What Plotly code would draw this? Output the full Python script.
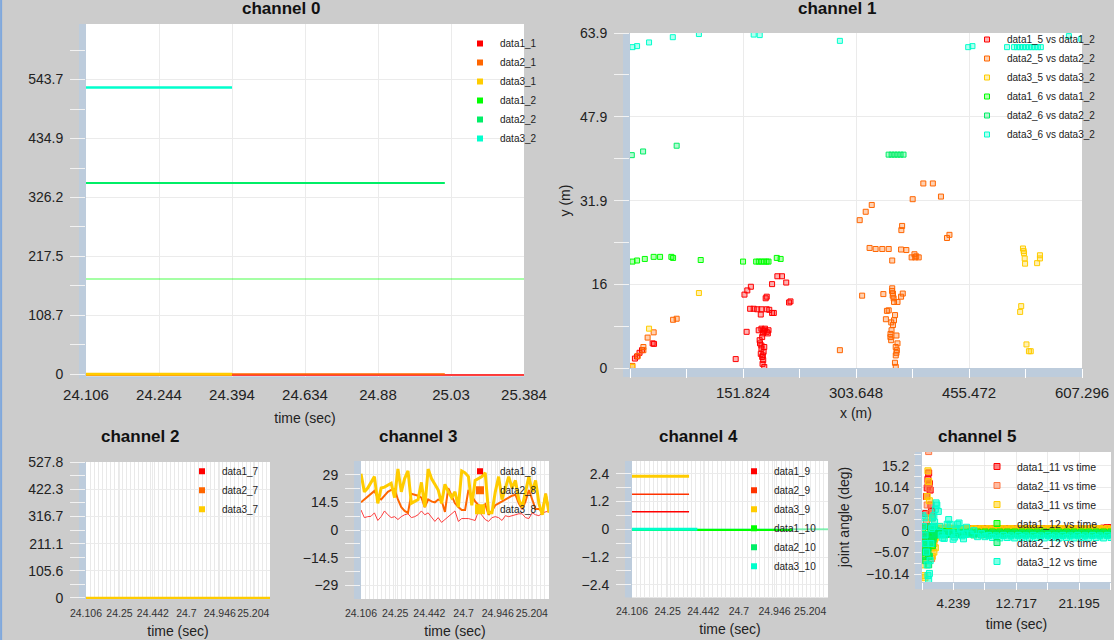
import numpy as np
import plotly.graph_objects as go

W, H = 1114, 640
FONT = "Liberation Sans, Arial, sans-serif"
BG = "#CCCCCC"
STRIP = "#BDCCDC"
GRID = "#EBEBEB"
TICKC = "#F2F2F2"

RED = "#FF0000"
ORANGE = "#FF6600"
YELLOW = "#FFCC00"
GREEN = "#00FF00"
MINT = "#00EE66"
CYAN = "#00FFCC"

# ---- time axis (seconds) shared by channels 0, 2, 3, 4
T0, T1 = 24.106, 25.384
labels_ch0 = ["24.106", "24.244", "24.394", "24.634", "24.88", "25.03", "25.384"]
labels_small = ["24.106", "24.25", "24.442", "24.7", "24.946", "25.204"]

# ---- channel 0
t_ch0 = [24.106, 24.532, 25.153, 25.384]
data1_1 = [-1.2, -1.2, -1.2, -1.2]
data2_1 = [0.6, 0.6, 0.6, None]
data3_1 = [0.0, 0.0, None, None]
data1_2 = [175.6, 175.6, 175.6, 175.6]
data2_2 = [352.6, 352.6, 352.6, None]
data3_2 = [529.0, 529.0, None, None]
yticks_ch0 = [0, 108.7, 217.5, 326.2, 434.9, 543.7]

# ---- channel 1 (x (m) vs y (m))
data1_5_x = [6.6, 9.5, 12.8, 16.1, 30.4, 32.3, 142.0, 153.8, 157.6, 162.4, 156.7, 161.4, 166.2, 170.9, 176.6,
             183.7, 187.1, 190.9, 193.2, 175.7, 182.3, 183.7, 190.9, 198.0, 204.2, 209.9, 213.7, 215.6, 172.9, 176.6,
             180.4, 183.7, 186.1, 178.5, 174.2, 174.7, 176.6, 175.7, 177.6, 179.0, 178.1, 180.4, 176.6, 179.5, 179.0,
             185.2, 181.4, 177.6, 180.4, 178.5]
data1_5_y = [1.8, 2.2, 2.9, 3.4, 4.7, 4.6, 1.7, 14.0, 14.8, 15.5, 6.9, 11.3, 11.3, 11.2, 11.2,
             11.2, 11.1, 10.5, 10.5, 10.2, 13.3, 13.6, 16.0, 17.5, 17.5, 16.3, 12.5, 12.7, 7.2, 7.5,
             7.1, 6.9, 7.2, 6.6, 5.3, 4.7, 3.7, 2.7, 2.1, 1.5, 0.8, 0.2, 4.3, 3.1, 7.2,
             6.6, 7.5, 5.9, 4.0, 2.4]
data2_5_x = [3.3, 10.4, 18.0, 18.0, 23.7, 31.8, 57.9, 62.7, 282.0, 308.6, 316.7, 324.8, 311.9, 321.9, 330.0,
             339.0, 347.6, 352.3, 364.2, 371.3, 365.6, 364.6, 379.8, 394.1, 406.9, 417.8, 425.9, 429.2, 378.4, 383.2,
             387.9, 384.6, 382.2, 340.4, 345.2, 347.6, 343.8, 357.1, 352.3, 353.3, 354.2, 354.7, 359.4, 364.2, 366.5,
             356.1, 354.7, 353.3, 351.4, 349.9, 350.9, 358.0, 359.4, 358.5, 357.1, 352.0, 353.0, 351.0, 350.0, 357.0,
             358.0, 356.0]
data2_5_y = [0.4, 2.3, 3.4, 4.0, 5.8, 6.8, 9.2, 9.4, 3.4, 28.2, 29.8, 31.1, 13.8, 22.9, 22.7,
             22.7, 22.7, 20.5, 22.6, 22.5, 27.1, 26.3, 32.2, 35.2, 35.2, 32.7, 24.8, 25.4, 21.1, 21.1,
             21.1, 21.3, 21.7, 14.1, 10.9, 11.0, 9.3, 0.2, 15.2, 14.2, 13.3, 12.6, 12.6, 13.6, 14.2,
             10.1, 9.1, 8.2, 7.2, 5.9, 5.3, 6.2, 4.7, 3.4, 2.4, 14.7, 13.8, 8.7, 6.5, 4.0,
             2.9, 1.0]
data3_5_x = [2.8, 25.6, 92.6, 524.2, 525.6, 528.0, 529.4, 530.3, 530.8, 528.9, 547.0, 550.8, 550.8, 532.7, 536.0, 538.4]
data3_5_y = [0.2, 7.5, 14.3, 10.7, 11.8, 22.8, 21.9, 20.9, 19.9, 22.3, 20.0, 20.9, 21.5, 4.5, 3.2, 3.2]
data1_6_x = [3.3, 9.5, 19.9, 31.8, 40.4, 55.6, 57.9, 95.0, 151.9, 169.5, 173.0, 176.6, 180.0, 183.5, 186.1, 197.2, 202.4]
data1_6_y = [20.3, 20.5, 20.8, 21.2, 21.2, 21.2, 21.0, 20.6, 20.3, 20.3, 20.3, 20.3, 20.3, 20.3, 20.3, 21.0, 20.8]
data2_6_x = [2.4, 17.6, 62.7, 347.5, 351.5, 355.5, 359.5, 363.5, 367.5]
data2_6_y = [40.6, 41.3, 42.4, 40.7, 40.7, 40.7, 40.7, 40.7, 40.7]
data3_6_x = [3.3, 9.5, 25.6, 57.5, 92.6, 166.2, 174.3, 282.0, 454.4, 460.1, 506.6, 516.0, 520.0, 524.0, 528.0,
             532.0, 536.0, 540.0, 544.0, 548.0, 552.0, 589.7, 606.3]
data3_6_y = [61.2, 61.4, 62.1, 63.1, 63.7, 63.6, 63.5, 62.4, 61.2, 61.4, 61.2, 61.2, 61.2, 61.2, 61.2,
             61.2, 61.2, 61.2, 61.2, 61.2, 61.2, 63.3, 62.8]
xticks_ch1 = [151.824, 303.648, 455.472, 607.296]
yticks_ch1 = [0, 16, 31.9, 47.9, 63.9]

# ---- channel 2
t_ch2 = [24.106, 25.384]
data1_7 = [0.0, 0.0]
data2_7 = [0.0, 0.0]
data3_7 = [0.0, 0.0]
yticks_ch2 = [0, 105.6, 211.1, 316.7, 422.3, 527.8]

# ---- channel 3
t_ch3 = np.linspace(T0, T1, 57)
data1_8 = [10.5, 6.5, 7.0, 7.2, 9.0, 5.0, 7.0, 10.0, 8.0, 6.5, 7.0, 5.5, 7.0, 8.0, 8.5, 6.5, 7.0, 8.0, 10.0,
           8.0, 9.0, 7.0, 4.5, 6.5, 4.0, 5.5, 7.0, 9.0, 10.0, 4.5, 6.0, 6.0, 6.0, 5.5, 5.0, 10.0, 8.0, 5.5,
           4.5, 6.5, 7.0, 6.5, 5.0, 7.5, 7.0, 7.5, 8.0, 8.5, 8.5, 6.5, 6.0, 9.0, 8.0, 7.5, 9.0, 9.5, 10.0]
data2_8 = [14.5, 16.0, 18.0, 19.5, 20.5, 17.0, 16.0, 18.0, 20.0, 21.0, 21.5, 16.0, 12.0, 10.0, 9.0, 19.0, 18.5,
           18.0, 17.0, 12.0, 16.0, 15.0, 14.5, 16.0, 15.5, 9.5, 22.0, 18.0, 14.0, 12.0, 10.5, 10.5, 21.0, 18.0,
           15.0, 13.0, 12.0, 13.5, 8.0, 10.0, 13.0, 14.0, 15.0, 16.0, 17.0, 18.0, 18.5, 14.0, 11.0, 15.0, 21.0,
           16.0, 11.0, 11.0, 10.0, 19.0, 10.0]
data3_8 = [29.5, 20.0, 22.0, 25.0, 28.0, 14.0, 22.0, 22.5, 23.5, 24.5, 17.0, 32.0, 20.0, 27.0, 31.0, 14.0, 15.0,
           16.0, 25.0, 12.0, 32.0, 27.0, 24.0, 21.0, 14.0, 24.0, 20.0, 17.0, 20.0, 12.0, 31.0, 30.0, 28.0, 13.0,
           26.0, 27.0, 28.0, 30.0, 9.0, 9.0, 20.0, 28.0, 16.0, 22.0, 28.0, 22.0, 26.0, 16.0, 12.0, 20.0, 28.0,
           20.0, 26.0, 14.0, 8.0, 19.0, 9.0]
yticks_ch3 = [-29, -14.5, 0, 14.5, 29]

# ---- channel 4
t_ch4 = [24.106, 24.478, 24.532, 25.153, 25.384]
data1_9 = [0.76, 0.76, None, None, None]
data2_9 = [1.51, 1.51, None, None, None]
data3_9 = [2.29, 2.29, None, None, None]
data1_10 = [-0.03, -0.03, -0.03, -0.03, None]
data2_10 = [0.0, 0.0, 0.0, 0.0, 0.0]
data3_10 = [0.0, 0.0, 0.0, None, None]
yticks_ch4 = [-2.4, -1.2, 0, 1.2, 2.4]

# ---- channel 5 (joint angle vs time): 20 + 20 + 39 samples
t_ch5 = np.round(np.concatenate([np.arange(0.1, 2.01, 0.1), np.arange(2.2, 6.01, 0.2),
                                 np.arange(6.5, 25.51, 0.5)]), 2)
data1_11 = [-1.5, -3.5, -1.0, 1.0, 4.0, 8.0, 10.0, 12.0, 13.5, 11.0, 9.5, 6.0, 4.5, 3.0, 1.0, 0.0, -0.5, 0.0, 0.3, 0.2,
            0.3, 0.4, 0.3, 0.2, 0.3, 0.4, 0.3, 0.3, 0.4, 0.3, 0.3, 0.4, 0.3, 0.3, 0.4, 0.3, 0.4, 0.3, 0.4, 0.3,
            0.4, 0.5, 0.4, 0.5, 0.4, 0.5, 0.4, 0.5, 0.4, 0.5, 0.4, 0.5, 0.4, 0.5, 0.4, 0.5, 0.4, 0.5, 0.4, 0.5,
            0.4, 0.5, 0.4, 0.5, 0.4, 0.5, 0.4, 0.5, 0.4, 0.5, 0.4, 0.5, 0.4, 0.5, 0.4, 0.5, 0.6, 0.7, 0.7]
data2_11 = [-2.0, -4.0, -6.0, -5.0, -3.0, 2.0, 6.0, 11.0, 18.5, 10.0, 4.0, -2.0, -6.5, -4.0, -1.0, -3.0, 0.5, -1.0, 0.2, 0.5,
            0.3, 0.4, 0.2, 0.3, 0.2, 0.3, 0.2, 0.3, 0.2, 0.2, 0.3, 0.2, 0.2, 0.3, 0.2, 0.2, 0.3, 0.2, 0.2, 0.3,
            0.2, 0.1, 0.2, 0.2, 0.1, 0.2, 0.2, 0.1, 0.2, 0.2, 0.1, 0.2, 0.2, 0.1, 0.2, 0.2, 0.1, 0.2, 0.2, 0.1,
            0.2, 0.2, 0.1, 0.2, 0.2, 0.1, 0.2, 0.2, 0.1, 0.2, 0.2, 0.1, 0.2, 0.2, 0.1, 0.2, 0.2, 0.1, 0.2]
data3_11 = [-3.0, -8.0, -10.5, -11.0, -7.0, -4.0, 8.0, 14.0, 11.5, 7.0, 3.0, -1.0, -4.0, -6.0, -3.0, -5.0, -2.0, -4.0, -1.5, -0.5,
            0.5, 1.0, 0.2, -0.8, -1.0, 0.0, 0.8, 0.6, 0.2, 0.0, 0.3, 0.6, 0.5, 0.3, 0.4, 0.5, 0.4, 0.3, 0.4, 0.5,
            0.3, 0.5, 0.3, 0.5, 0.3, 0.5, 0.3, 0.5, 0.3, 0.5, 0.3, 0.5, 0.3, 0.5, 0.3, 0.5, 0.3, 0.5, 0.3, 0.5,
            0.3, 0.5, 0.3, 0.5, 0.3, 0.5, 0.3, 0.5, 0.3, 0.5, 0.3, 0.5, 0.3, 0.5, 0.3, 0.5, 0.3, 0.5, 0.3]
data1_12 = [0.5, -2.0, -4.0, -6.0, -5.0, -3.0, -1.0, -4.0, -6.0, -3.0, -1.0, 0.5, -2.0, -3.5, -1.5, 0.5, -0.5, -1.0, 0.0, -0.5,
            -0.3, -0.6, -0.4, -0.2, -0.5, -0.6, -0.4, -0.3, -0.5, -0.4, -0.5, -0.4, -0.5, -0.4, -0.5, -0.4, -0.5, -0.4, -0.5, -0.4,
            -0.3, -0.7, -0.3, -0.7, -0.3, -0.7, -0.3, -0.7, -0.3, -0.7, -0.3, -0.7, -0.3, -0.7, -0.3, -0.7, -0.3, -0.7, -0.3, -0.7,
            -0.3, -0.7, -0.3, -0.7, -0.3, -0.7, -0.3, -0.7, -0.3, -0.7, -0.3, -0.7, -0.3, -0.7, -0.3, -0.7, -0.3, -0.7, -0.3]
data2_12 = [1.0, -1.0, -3.0, -5.0, -7.0, -4.0, -2.0, -5.0, -8.0, -6.0, -2.0, 1.0, -1.0, -3.0, -2.0, 0.0, 1.0, -1.0, -0.5, 0.0,
            -0.6, -0.9, -0.7, -0.5, -0.8, -0.9, -0.7, -0.6, -0.8, -0.7, -0.8, -0.7, -0.8, -0.7, -0.8, -0.8, -0.7, -0.8, -0.7, -0.8,
            -0.6, -1.0, -0.6, -1.0, -0.6, -1.0, -0.6, -1.0, -0.6, -1.0, -0.6, -1.0, -0.6, -1.0, -0.6, -1.0, -0.6, -1.0, -0.6, -1.0,
            -0.6, -1.0, -0.6, -1.0, -0.6, -1.0, -0.6, -1.0, -0.6, -1.0, -0.6, -1.0, -0.6, -1.0, -0.6, -1.0, -0.6, -1.0, -0.6]
data3_12 = [3.5, 1.0, 3.0, -1.0, -3.0, -5.0, -8.0, -10.5, -11.5, -10.0, -7.0, -3.0, 0.5, 3.0, 1.0, 3.5, 2.0, 5.0, 6.5, 6.0,
            4.5, 1.0, -1.0, -1.7, -1.8, -0.5, 1.5, 2.6, 1.5, -0.5, -2.0, -1.5, 0.2, 1.5, 1.8, 0.5, -1.2, -1.9, -0.8, 0.8,
            -0.8, 0.0, -1.4, -0.7, -1.4, -1.1, -1.6, -1.2, -1.7, -1.1, -1.6, -1.2, -1.7, -1.1, -1.6, -1.2, -1.7, -1.1, -1.6, -1.2,
            -1.7, -1.1, -1.6, -1.2, -1.7, -1.1, -1.6, -1.2, -1.7, -1.1, -1.6, -1.2, -1.7, -1.1, -1.6, -1.2, -1.7, -1.1, -1.6]
xticks_ch5 = [4.239, 12.717, 21.195]
yticks_ch5 = [-10.14, -5.07, 0, 5.07, 10.14, 15.2]


def px_x(v):
    return v / W


def px_y(v):
    return 1 - v / H


def rgba(hexcol, a):
    h = hexcol.lstrip("#")
    return "rgba(%d,%d,%d,%s)" % (int(h[0:2], 16), int(h[2:4], 16), int(h[4:6], 16), a)


def ax_id(letter, n):
    return letter if n == 1 else "%s%d" % (letter, n)


fig = go.Figure()
rank = [0]


def next_rank():
    rank[0] += 1
    return rank[0]


def add_line(n, legend, name, x, y, color, width, opacity=1.0, lsize=6, order=None):
    # line trace + a square marker that only lives in the legend
    fig.add_trace(go.Scatter(x=x, y=y, mode="lines", line=dict(color=color, width=width), opacity=opacity,
                             xaxis=ax_id("x", n), yaxis=ax_id("y", n), legendgroup=name, showlegend=False,
                             name=name))
    fig.add_trace(go.Scatter(x=[None], y=[None], mode="markers", name=name, legend=legend, legendgroup=name,
                             legendrank=order if order is not None else next_rank(),
                             marker=dict(symbol="square", size=lsize, color=color),
                             xaxis=ax_id("x", n), yaxis=ax_id("y", n)))


def add_points(n, legend, name, x, y, color, size, fill=0.3):
    fig.add_trace(go.Scatter(x=x, y=y, mode="markers", name=name, legend=legend, legendrank=next_rank(),
                             marker=dict(symbol="square", size=size, color=rgba(color, fill),
                                         line=dict(color=color, width=1)),
                             xaxis=ax_id("x", n), yaxis=ax_id("y", n)))


# channel 0
add_line(1, "legend", "data1_1", t_ch0, data1_1, RED, 1.5)
add_line(1, "legend", "data2_1", t_ch0, data2_1, ORANGE, 1.5)
add_line(1, "legend", "data3_1", t_ch0, data3_1, YELLOW, 3)
add_line(1, "legend", "data1_2", t_ch0, data1_2, GREEN, 2, opacity=0.35)
add_line(1, "legend", "data2_2", t_ch0, data2_2, MINT, 2)
add_line(1, "legend", "data3_2", t_ch0, data3_2, CYAN, 2.5)

# channel 1
add_points(2, "legend2", "data1_5 vs data1_2", data1_5_x, data1_5_y, RED, 5)
add_points(2, "legend2", "data2_5 vs data2_2", data2_5_x, data2_5_y, ORANGE, 5)
add_points(2, "legend2", "data3_5 vs data3_2", data3_5_x, data3_5_y, YELLOW, 5)
add_points(2, "legend2", "data1_6 vs data1_2", data1_6_x, data1_6_y, GREEN, 5)
add_points(2, "legend2", "data2_6 vs data2_2", data2_6_x, data2_6_y, MINT, 5)
add_points(2, "legend2", "data3_6 vs data3_2", data3_6_x, data3_6_y, CYAN, 5)

# channel 2
add_line(3, "legend3", "data1_7", t_ch2, data1_7, RED, 1.5)
add_line(3, "legend3", "data2_7", t_ch2, data2_7, ORANGE, 1.5)
add_line(3, "legend3", "data3_7", t_ch2, data3_7, YELLOW, 2.5)

# channel 3
add_line(4, "legend4", "data1_8", t_ch3, data1_8, RED, 1, opacity=0.75, lsize=6)
add_line(4, "legend4", "data2_8", t_ch3, data2_8, ORANGE, 2, lsize=8)
add_line(4, "legend4", "data3_8", t_ch3, data3_8, YELLOW, 3, lsize=10)

# channel 4 (pale data2_10 drawn first so it sits underneath)
add_line(5, "legend5", "data2_10", t_ch4, data2_10, MINT, 2, opacity=0.45, order=1005)
add_line(5, "legend5", "data1_9", t_ch4, data1_9, RED, 1.5, order=1001)
add_line(5, "legend5", "data2_9", t_ch4, data2_9, "#FF3300", 1.5, order=1002)
add_line(5, "legend5", "data3_9", t_ch4, data3_9, YELLOW, 3, order=1003)
add_line(5, "legend5", "data1_10", t_ch4, data1_10, GREEN, 2, order=1004)
add_line(5, "legend5", "data3_10", t_ch4, data3_10, CYAN, 3, order=1006)

# channel 5
add_points(6, "legend6", "data1_11 vs time", t_ch5, data1_11, RED, 6, fill=0.5)
add_points(6, "legend6", "data2_11 vs time", t_ch5, data2_11, "#FF7744", 6, fill=0.5)
add_points(6, "legend6", "data3_11 vs time", t_ch5, data3_11, YELLOW, 6, fill=0.5)
add_points(6, "legend6", "data1_12 vs time", t_ch5, data1_12, GREEN, 6, fill=0.5)
add_points(6, "legend6", "data2_12 vs time", t_ch5, data2_12, MINT, 6, fill=0.5)
add_points(6, "legend6", "data3_12 vs time", t_ch5, data3_12, CYAN, 6, fill=0.5)

# ---- panel geometry in pixels: (left, right, top, bottom)
boxes = {
    1: (86, 524, 24, 376.5),
    2: (630, 1082, 33, 368),
    3: (86, 270, 462, 599),
    4: (361, 549, 461, 599),
    5: (632, 828, 461, 597.5),
    6: (922, 1111, 452, 582),
}

tickfont = dict(family=FONT, size=14, color="#222")
small_step = (T1 - T0) / 5.5
axes = {}
for n, (l, r, t, b) in boxes.items():
    axes[ax_id("xaxis", n)] = dict(domain=[px_x(l), px_x(r)], anchor=ax_id("y", n), showline=False,
                                   zeroline=False, gridcolor=GRID, tickfont=tickfont, ticks="", tickangle=0)
    axes[ax_id("yaxis", n)] = dict(domain=[px_y(b), px_y(t)], anchor=ax_id("x", n), showline=False,
                                   zeroline=False, gridcolor=GRID, tickfont=tickfont, ticks="outside",
                                   ticklen=15, tickcolor=TICKC, tickwidth=1, ticklabelstandoff=4)

# time axes
axes["xaxis"].update(range=[T0, T1], tickvals=list(np.linspace(T0, T1, 7)), ticktext=labels_ch0,
                     tickfont=dict(family=FONT, size=15, color="#222"), ticklabelstandoff=7,
                     title=dict(text="time (sec)", font=dict(family=FONT, size=14, color="#222"), standoff=11))
for n in (3, 4, 5):
    axes["xaxis%d" % n].update(range=[T0, T1], tickvals=[T0 + k * small_step for k in range(6)],
                               ticktext=labels_small, tickfont=dict(family=FONT, size=10.5, color="#333"),
                               ticklabelstandoff=6,
                               minor=dict(dtick=(T1 - T0) / 46, tick0=T0, showgrid=True, gridcolor="#E9E9E9"),
                               title=dict(text="time (sec)", font=dict(family=FONT, size=14, color="#222"),
                                          standoff=8))
axes["xaxis2"].update(range=[0, 607.296], tickvals=xticks_ch1, ticks="outside", ticklen=9, tickcolor="#FFFFFF",
                      minor=dict(dtick=75.912, tick0=0, ticks="outside", ticklen=9, tickcolor="#FFFFFF"),
                      tickfont=dict(family=FONT, size=15, color="#222"), ticklabelstandoff=2,
                      title=dict(text="x (m)", font=dict(family=FONT, size=14, color="#222"), standoff=8))
axes["xaxis6"].update(range=[0, 25.5], tickvals=xticks_ch5, ticks="outside", ticklen=7, tickcolor="#FFFFFF",
                      minor=dict(dtick=4.239, tick0=0, ticks="outside", ticklen=7, tickcolor="#FFFFFF",
                                 showgrid=True, gridcolor=GRID),
                      tickfont=dict(family=FONT, size=13.5, color="#222"), ticklabelstandoff=2,
                      title=dict(text="time (sec)", font=dict(family=FONT, size=14, color="#222"), standoff=8))

axes["yaxis"].update(range=[-4, 646], tickvals=yticks_ch0,
                     minor=dict(dtick=54.35, tick0=0, ticks="outside", ticklen=15, tickcolor=TICKC))
axes["yaxis2"].update(range=[0, 63.9], tickvals=yticks_ch1,
                      minor=dict(dtick=7.99, tick0=0, ticks="outside", ticklen=15, tickcolor=TICKC),
                      title=dict(text="y (m)", font=dict(family=FONT, size=14, color="#222"), standoff=6))
axes["yaxis3"].update(range=[-4, 528], tickvals=yticks_ch2,
                      minor=dict(dtick=52.78, tick0=0, ticks="outside", ticklen=15, tickcolor=TICKC))
axes["yaxis4"].update(range=[-36.2, 36.2], tickvals=yticks_ch3,
                      minor=dict(dtick=7.25, tick0=0, ticks="outside", ticklen=15, tickcolor=TICKC))
axes["yaxis5"].update(range=[-2.95, 2.95], tickvals=yticks_ch4,
                      minor=dict(dtick=0.6, tick0=0, ticks="outside", ticklen=15, tickcolor=TICKC))
axes["yaxis6"].update(range=[-12.0, 18.4], tickvals=yticks_ch5, ticklen=7, ticklabelstandoff=2,
                      minor=dict(dtick=2.535, tick0=0, ticks="outside", ticklen=7, tickcolor=TICKC),
                      title=dict(text="joint angle (deg)", font=dict(family=FONT, size=14, color="#222"),
                                 standoff=13))

# blue-grey strips next to the plot areas
shapes = []
for n in boxes:
    xr = ax_id("x", n) + " domain"
    yr = ax_id("y", n) + " domain"
    shapes.append(dict(type="rect", xref=xr, yref=yr, xsizemode="pixel", xanchor=0, x0=-7, x1=0, y0=0, y1=1,
                       fillcolor=STRIP, line=dict(width=0), layer="below"))
for n, depth in ((1, 2), (2, 9), (6, 7)):
    shapes.append(dict(type="rect", xref=ax_id("x", n) + " domain", yref=ax_id("y", n) + " domain",
                       ysizemode="pixel", yanchor=0, y0=-depth, y1=0,
                       x0=-7 / (boxes[n][1] - boxes[n][0]), x1=1,
                       fillcolor=STRIP, line=dict(width=0), layer="below"))
shapes.append(dict(type="line", xref="paper", yref="paper", x0=0.001, x1=0.001, y0=0, y1=1,
                   line=dict(color="#7FA8DD", width=2)))

# panel titles
titles = [("channel 0", 281, 9), ("channel 1", 837, 9), ("channel 2", 140, 436),
          ("channel 3", 418, 436), ("channel 4", 698, 436), ("channel 5", 977, 436)]
annotations = [dict(text="<b>%s</b>" % txt, x=px_x(cx), y=px_y(cy), xref="paper", yref="paper",
                    showarrow=False, font=dict(family=FONT, size=17, color="#111"),
                    xanchor="center", yanchor="middle") for txt, cx, cy in titles]

# legends: (name, text-start x px, first item centre y px, font size)
legend_pos = [("legend", 500, 44, 10), ("legend2", 1007, 40, 10), ("legend3", 222, 471.7, 10),
              ("legend4", 500, 471.7, 10), ("legend5", 774, 471.7, 10), ("legend6", 1017, 467, 10.5)]
legends = {}
for name, tx, cy, fs in legend_pos:
    legends[name] = dict(x=px_x(tx - 40), y=px_y(cy - 15), xanchor="left", yanchor="top",
                         bgcolor="rgba(0,0,0,0)", borderwidth=0, itemwidth=30, tracegroupgap=0,
                         font=dict(family=FONT, size=fs, color="#222"))

fig.update_layout(
    width=W, height=H, autosize=False,
    margin=dict(l=0, r=0, t=0, b=0, pad=0, autoexpand=False),
    paper_bgcolor=BG, plot_bgcolor="white",
    font=dict(family=FONT, color="#222"),
    showlegend=True,
    shapes=shapes, annotations=annotations,
    **axes, **legends,
)

# the page's default body margin would shift the 1114x640 figure off the window
fig.write_html("out.html", config={"displayModeBar": False},
               post_script="document.body.style.margin='0px';")
